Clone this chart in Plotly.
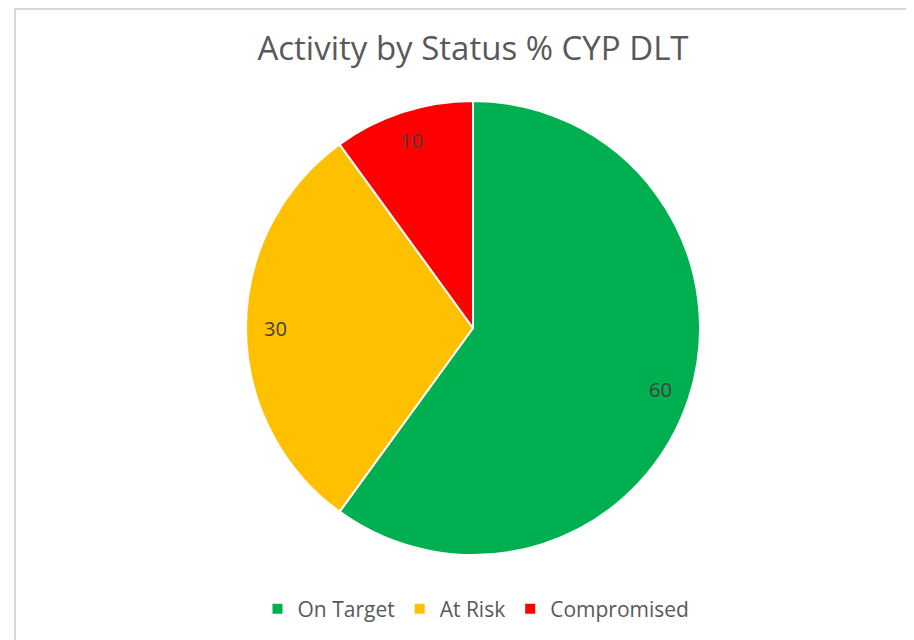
import math
import plotly.graph_objects as go

labels = ["On Target", "At Risk", "Compromised"]
values = [60, 30, 10]
colors = ["#00B050", "#FFC000", "#FF0000"]
title = "Activity by Status % CYP DLT"

W, H = 914, 640
OFF = 8  # page body margin
cx, cy, R = 473 - OFF, 328 - OFF, 227  # pie centre/radius in figure pixels

xd = [(cx - R) / W, (cx + R) / W]
yd = [(H - cy - R) / H, (H - cy + R) / H]

fig = go.Figure()
fig.add_trace(go.Pie(
    labels=labels, values=values, sort=False, direction="clockwise", rotation=0,
    marker=dict(colors=colors, line=dict(color="white", width=2)),
    textinfo="none", hoverinfo="label+value",
    domain=dict(x=xd, y=yd),
))

# value labels placed along each slice bisector at ~0.87 R
total = sum(values)
ann = []
start = 0.0
for v in values:
    mid = (start + v / 2) / total * 2 * math.pi
    start += v
    px = cx + 0.87 * R * math.sin(mid)
    py = cy - 0.87 * R * math.cos(mid)
    ann.append(dict(x=px / W, y=1 - py / H, xref="paper", yref="paper", text=str(v),
                    xanchor="center", yanchor="middle", showarrow=False,
                    font=dict(family="Open Sans", size=20, color="#404040")))

fig.update_layout(
    width=W, height=H, margin=dict(l=0, r=0, t=0, b=0),
    paper_bgcolor="white", plot_bgcolor="white",
    title=dict(text=title, x=cx / W, xanchor="center", y=1 - (48 - OFF) / H, yanchor="middle",
               font=dict(family="Open Sans", size=33, color="#595959")),
    legend=dict(orientation="h", x=(476 - OFF) / W, xanchor="center", y=1 - (609 - OFF) / H,
                yanchor="middle",
                font=dict(family="Open Sans", size=21, color="#595959"),
                itemwidth=30, traceorder="normal"),
    annotations=ann,
    shapes=[dict(type="rect", xref="paper", yref="paper", x0=(15 - OFF) / W, x1=1.2,
                 y0=-0.2, y1=1 - 1 / H, line=dict(color="#D9D9D9", width=2))],
)

fig.write_html("out.html")
